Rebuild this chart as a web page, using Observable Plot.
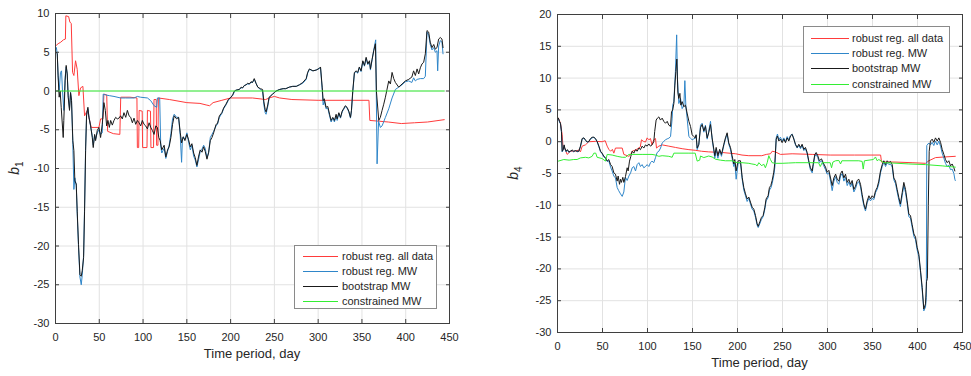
<!DOCTYPE html>
<html><head><meta charset="utf-8">
<script src="https://cdn.jsdelivr.net/npm/d3@7"></script>
<script src="https://cdn.jsdelivr.net/npm/@observablehq/plot@0.6"></script>
<style>
body{margin:0;background:#fff;font-family:"Liberation Sans",Arial,Helvetica,sans-serif;}
#wrap{position:relative;width:971px;height:376px;overflow:hidden;background:#fff;}
.panel{position:absolute;top:0;z-index:1;}
.legend{position:absolute;z-index:5;background:#fff;border:1px solid #8a8a8a;box-sizing:border-box;font-size:11px;color:#262626;}
.row{position:absolute;left:0;height:14px;line-height:14px;white-space:nowrap;}
.sw{position:absolute;top:0;}
.lt{position:absolute;top:0;}
</style></head><body>
<div id="wrap"></div>
<script>
// ---------- data ----------
const seriesNames = ["robust reg. all data", "robust reg. MW", "bootstrap MW", "constrained MW"];
const seriesColors = ["#ff3b3b", "#2f86c9", "#1a1a1a", "#33ee33"];
const xTicks = [0, 50, 100, 150, 200, 250, 300, 350, 400, 450];
const yTicksB1 = [-30, -25, -20, -15, -10, -5, 0, 5, 10];
const yTicksB4 = [-30, -25, -20, -15, -10, -5, 0, 5, 10, 15, 20];
const xLabel = "Time period, day";

// panel b1 : [day, value]
const b1RobustAll = [[1,5.9],[3,6.1],[6,6.3],[9,6.6],[11.3,6.7],[11.8,9.7],[15,9.6],[16.4,8.9],[18,8.7],[19.5,2.4],[21,2.0],[22.9,3.9],[24.8,2.8],[26.7,-0.6],[28.6,0.4],[31.3,0.6],[33.2,-3.2],[36.3,-2.5],[38.2,-3.4],[40.8,-4.7],[49.6,-4.7],[51.5,-3.6],[54.2,-3.6],[55.3,-0.4],[58.5,-0.5],[59.5,-5.2],[66,-5.5],[73.5,-5.6],[74.5,-0.8],[85,-0.8],[93,-0.9],[93.5,-7.3],[95,-7.3],[95.5,-2.5],[99,-2.6],[99.5,-7.3],[104.5,-7.3],[105,-2.5],[108.5,-2.6],[109,-7.3],[112,-7.3],[112.5,-1.1],[115,-1.1],[115.5,-7.0],[117,-7.0],[117.5,-0.9],[130,-1.1],[150,-1.5],[165,-1.6],[172,-1.8],[176,-1.9],[180,-1.5],[190,-1.2],[200,-0.9],[225,-0.9],[240,-1.1],[244,-0.9],[250,-0.7],[256,-0.9],[270,-1.1],[300,-1.2],[330,-1.2],[358,-1.2],[359,-3.8],[370,-3.9],[380,-4.0],[395,-4.2],[410,-4.1],[425,-4.0],[444,-3.7]];
const b1RobustMW = [[1,5.6],[2,4.8],[3,2.0],[4.2,0],[5.7,2.4],[6.9,2.6],[8,0],[9.5,-2.5],[11,1.8],[12.2,3.1],[13.4,2.2],[14.5,-0.6],[16,-2.3],[17.2,-0.2],[18.3,-1.2],[19.8,-6.9],[21,-12.7],[22.1,-11.2],[23.7,-12.2],[24.8,-15.8],[26.3,-20.2],[27.9,-24],[29.4,-25],[30.5,-23.8],[32.1,-21.2],[33.2,-15],[34.4,-7.2],[35.5,-3.2],[37,-2.3],[38.2,-3.3],[40.1,-4.6],[42,-5.8],[43.1,-7.0],[44.7,-5.7],[45.8,-6.2],[47.7,-5.4],[49.6,-5.0],[51.5,-5.6],[53.4,-5.4],[54.5,-0.4],[57,-0.5],[61.5,-0.6],[66.8,-0.7],[74.4,-0.9],[80,-0.9],[89.7,-0.9],[93.5,-0.7],[97,-0.8],[105,-0.9],[108.8,-1.25],[112.6,-1.9],[115.6,-2.1],[116.4,-0.9],[119,-0.9],[120.2,-7.1],[121.4,-8.0],[124.1,-7.4],[126,-8.7],[128,-7.8],[129.8,-7.0],[131.8,-5.5],[133.7,-3.6],[135.6,-3.0],[138.3,-3.4],[140.6,-3.4],[142.5,-5.8],[144,-9.2],[145,-6.0],[147.8,-6.2],[150.1,-5.4],[152,-6.6],[154,-7.6],[155.8,-7.0],[157.8,-8.4],[159.6,-8.9],[161.5,-9.8],[163.5,-8.8],[165.3,-7.8],[167.3,-7.5],[169.2,-7.0],[171,-7.4],[173,-8.6],[174.9,-8.0],[176.8,-6.0],[178.7,-5.6],[180.6,-5.2],[183.4,-4.5],[185,-4.3],[187.2,-3.4],[190,-2.9],[192,-2.3],[194.7,-1.8],[197.4,-1.2],[200.4,-0.8],[202.3,-0.6],[204.3,-0.1],[206,0.1],[210,0.2],[212,0.4],[213.7,0.4],[215.6,0.7],[217.6,0.8],[219.5,0.9],[221.4,0.9],[223.3,1.1],[225,1.1],[227,1.5],[229,1.0],[231,0.5],[234,0.2],[236.5,0.0],[238,-1.8],[239.5,-2.8],[240.5,-3.0],[242.4,-2.0],[244,-0.9],[246,-0.6],[248,-0.4],[250,-0.2],[252,0],[256,0.2],[260,0.3],[263,0.3],[267,0.5],[271,0.6],[275,0.6],[278.6,0.8],[282.4,1.0],[286.3,1.5],[288,2.3],[290,2.8],[294,2.6],[297.7,2.7],[301,2.9],[302.7,3.0],[304.6,0.2],[305.7,-1.8],[307,-1.3],[309,-2.3],[311,-2.2],[313,-3.2],[314.8,-4.0],[316.7,-3.5],[318.6,-4.0],[320.5,-3.2],[321.7,-3.8],[323.6,-2.9],[325.5,-3.5],[327.4,-2.7],[329,-2.4],[331,-2.0],[333,-2.2],[335,-2.7],[336.9,-3.5],[338,-2.6],[339.5,-0.2],[341.4,2.3],[343.3,2.5],[345.2,2.3],[347,3.0],[349,2.5],[351,3.8],[352.9,3.2],[354.8,4.2],[356.7,3.4],[358.6,3.8],[359.7,2.7],[361.6,4.0],[363.5,5.3],[365.7,6.6],[367.3,-9.4],[369,-3.9],[371,-4.7],[373,-4.5],[376.8,-3.4],[380.6,-2.3],[384.4,-0.9],[388.2,0.2],[392,0.5],[395.8,0.8],[399.6,1.2],[403.4,1.3],[407,1.1],[409,1.7],[411,1.3],[413,1.5],[416.7,1.6],[420.5,1.6],[422.4,1.9],[424.3,7.6],[426.2,7.2],[428,6.0],[430,5.3],[432,5.6],[433.8,5.0],[435.7,5.2],[436.5,2.6],[437.6,5.8],[439.5,6.5],[441.4,6.3],[442.6,4.8]];
const b1Bootstrap = [[1,5.0],[2,4.8],[3,1.8],[4.2,-0.8],[5.3,0],[6.5,-2.1],[8.8,-6.0],[9.5,-3.8],[11,1.3],[12.2,3.3],[13.4,2.2],[14.5,-0.8],[16,-2.5],[17.2,-0.2],[18.3,-1.2],[19.8,-6.4],[21,-7.7],[22.1,-11.6],[23.7,-12],[24.8,-15.5],[26.3,-19.8],[27.9,-23.7],[29.4,-23.9],[30.5,-23.2],[32.1,-21.5],[33.2,-15.5],[34.4,-7.7],[35.5,-3],[37,-2.1],[38.2,-3.4],[40.1,-4.5],[42,-6],[43.1,-7.3],[44.7,-5.6],[45.8,-6.4],[47.7,-5.1],[49.6,-4.7],[51.5,-6],[53.4,-4.3],[55.3,-1.5],[56.9,-2.5],[58.4,-4.5],[59.9,-3.8],[61.5,-4.7],[63,-3.8],[64.9,-4.4],[66.8,-3.8],[68.7,-3.4],[70.6,-3.6],[72.5,-3.5],[74.4,-3.2],[76.3,-3.6],[78.2,-2.8],[80.2,-3.4],[82.1,-2.5],[84,-3.2],[85.9,-3.4],[87.8,-4.1],[89.7,-3.5],[91.6,-4.3],[93.5,-3.8],[95.4,-4.1],[97.3,-4.5],[99.2,-3.8],[101.1,-4.3],[103,-4.5],[105,-4.9],[106.9,-4.1],[108.8,-4.7],[110.7,-5.1],[112.6,-5.6],[114.5,-4.5],[116.4,-4.7],[118,-6.0],[119.5,-6.4],[121.4,-7.6],[124.1,-7.0],[126,-8.5],[128,-7.6],[129.8,-7.2],[131.8,-6],[133.7,-4.3],[135.6,-3.2],[138.3,-3.6],[140.6,-3.4],[142.5,-5.4],[144,-6.7],[146,-5.9],[147.8,-6.4],[150.1,-5.6],[152,-6.3],[154,-7.2],[155.8,-6.8],[157.8,-8.0],[159.6,-8.6],[161.5,-9.6],[163.5,-8.4],[165.3,-7.6],[167.3,-7.9],[169.2,-7.2],[171,-7.8],[173,-8.8],[174.9,-7.9],[176.8,-6.4],[178.7,-6.0],[180.6,-5.4],[183.4,-4.3],[185,-4.2],[187.2,-3.2],[190,-2.8],[192,-2.2],[194.7,-1.7],[197.4,-1.1],[200.4,-0.8],[202.3,-0.5],[204.3,0],[206,0.1],[210,0.2],[212,0.5],[213.7,0.4],[215.6,0.7],[217.6,0.8],[219.5,1.0],[221.4,0.9],[223.3,1.2],[225,1.1],[227,1.6],[229,1.0],[231,0.5],[234,0.3],[236.5,0.2],[238,-1.4],[239.5,-2.4],[240.5,-2.7],[242.4,-1.8],[244,-0.8],[246,-0.6],[248,-0.4],[250,-0.2],[252,0],[256,0.2],[260,0.3],[263,0.3],[267,0.5],[271,0.6],[275,0.6],[278.6,0.8],[282.4,1.1],[286.3,1.6],[288,2.4],[290,2.85],[294,2.6],[297.7,2.7],[301,2.9],[302.7,3.1],[304.6,0.5],[305.7,-1.25],[307,-1.0],[309,-2.1],[311,-2.0],[313,-3.0],[314.8,-3.8],[316.7,-3.4],[318.6,-3.8],[320.5,-3.0],[321.7,-3.6],[323.6,-2.8],[325.5,-3.4],[327.4,-2.6],[329,-2.3],[331,-1.9],[333,-2.1],[335,-2.6],[336.9,-3.4],[338,-2.5],[339.5,0],[341.4,2.4],[343.3,2.6],[345.2,2.4],[347,3.1],[349,2.6],[351,3.9],[352.9,3.3],[354.8,4.35],[356.7,3.5],[358.6,3.9],[359.7,2.85],[361.6,4.1],[363.5,5.2],[365.4,6.1],[366.5,0],[369.2,-3.8],[371,-3.4],[373,-2.5],[374.9,-1.7],[376.8,-0.8],[378.7,0.25],[380.6,1.3],[382.5,0.9],[384.4,2.4],[386.3,1.6],[388.2,1.1],[392,0.5],[395.8,0.9],[399.6,1.3],[403.4,1.5],[407,1.8],[409,2.6],[411,2.0],[413,2.85],[414.8,2.2],[416.7,3.0],[418.6,3.5],[420.5,3.7],[422.4,4.8],[424.3,7.8],[426.2,7.6],[428,6.3],[430,5.6],[432,6.0],[433.8,5.4],[435.7,5.6],[437.6,6.7],[439.5,6.9],[441.4,6.7],[442.6,5.6]];
const b1Constrained = [[1,0],[444,0]];

// panel b4 : [day, value]
const b4RobustAll = [[1,3.7],[3.3,2.9],[5.2,1.1],[6.3,-1.25],[8,-1.0],[10.7,-2.0],[14.4,-1.5],[20,-1.5],[23.7,-1.3],[25.5,-1.6],[27.4,-0.7],[31,-0.5],[34.8,0],[42,0.05],[49.6,0],[53,0.15],[55.2,-0.7],[57,-1.2],[59,-1.5],[61,-1.2],[62.6,-1.8],[64.4,-1.0],[71.9,-1.0],[73.7,-2.0],[79.3,-2.3],[81,-2.1],[83,-1.5],[86.7,-1.3],[90.4,-1.0],[92,-0.8],[93.3,0.3],[95.5,0.05],[97.8,-0.05],[99.6,0.6],[101.5,0.3],[103.3,0.5],[105,-0.5],[107,0.3],[108.9,0.5],[110,-1.0],[112.6,-0.7],[116.3,-0.5],[123.7,-0.7],[131,-0.9],[138.5,-1.1],[146,-1.25],[153,-1.35],[160,-1.5],[168,-1.6],[183,-1.7],[198,-1.9],[205,-2.1],[212.6,-2.2],[227,-2.2],[232,-2.0],[236.6,-1.9],[238.5,-1.5],[242,-1.6],[247.7,-2.0],[260.7,-1.9],[283,-2.0],[303,-2.1],[330,-2.1],[359,-2.1],[360,-3.2],[375,-3.2],[394,-3.3],[408.9,-3.4],[412.6,-3.0],[420,-2.5],[430,-2.4],[442,-2.3]];
const b4RobustMW = [[1,3.6],[2.2,3.1],[3.3,2.8],[4.4,1.5],[5.2,-1.6],[6.3,-1.3],[7.4,-0.6],[8.1,-1.1],[9.6,-1.6],[11,-1.3],[12.6,-1.7],[14.4,-1.5],[16.3,-1.4],[18,-1.6],[20,-1.4],[21.8,-1.6],[23.7,-1.5],[25.5,-0.8],[27.4,0.4],[29.3,0.6],[31,0.2],[33,-0.1],[34.8,0],[36.7,0.4],[38.5,0.6],[40.4,0.7],[42.2,0.4],[44,0],[46,-0.8],[47.8,-1.6],[49.6,-1.9],[51.5,-2.4],[53.3,-2.6],[55.2,-3.1],[57,-3.0],[59,-4.0],[60.7,-4.6],[62.6,-5.4],[64.4,-5.7],[66.3,-7.2],[68,-7.7],[70,-8.2],[71.9,-8.6],[73.7,-7.9],[75.5,-5.6],[77.4,-6.1],[79.3,-5.4],[81.2,-4.9],[83,-4.1],[84.8,-3.9],[86.7,-4.6],[88.5,-3.6],[90.4,-3.3],[92.2,-3.9],[94,-3.6],[95.9,-4.1],[97.8,-3.9],[99.6,-3.6],[101.5,-3.9],[103.3,-3.3],[105,-3.05],[107,-3.3],[108.9,-2.5],[110.7,-1.7],[112.6,-1.5],[114.5,-1.0],[116.3,-0.2],[118.1,0.05],[120,0.3],[121.9,0.45],[123.7,0.55],[125.6,0.8],[127.4,3.7],[128.1,5.8],[129.3,6.3],[131,11.0],[132.4,16.8],[133.3,9.9],[134.8,6.0],[136.7,6.8],[138.5,5.2],[140.4,5.7],[141.5,9.6],[142.6,5.7],[144,3.7],[146,0.8],[147.8,0.55],[149.6,0.3],[151.5,0.45],[153,0.55],[154,1.0],[155.2,-1.25],[157,-0.5],[158.9,2.6],[160.7,2.9],[162.6,1.5],[164.4,2.6],[166.3,0.4],[168,1.6],[170,3.2],[171.8,0.4],[173.7,-1.5],[174.8,-2.6],[176.3,-1.2],[178.2,-2.6],[180.2,-1.4],[182.2,-2.3],[184.8,-0.6],[186.6,0.4],[188.5,1.2],[190.3,-0.4],[192.2,-1.2],[194,-2.6],[195.9,-3.9],[197,-3.3],[198.5,-5.9],[200.7,-3.4],[203.3,-3.3],[205.2,-5.9],[207,-7.6],[208.9,-8.5],[210.7,-9.4],[212.6,-8.9],[214.4,-9.8],[216.3,-10.6],[218.1,-10.9],[220,-11.9],[221.8,-13.1],[223,-13.5],[224.8,-12.9],[226.6,-12.2],[228.5,-11.8],[230.4,-10.6],[231.8,-9.3],[234,-8.8],[235.5,-7.6],[237,-7.3],[238.5,-6.6],[240.3,-5.3],[241.5,-4.0],[243,0.6],[244.4,1.2],[245.9,0.3],[247.7,0.7],[249.6,0.1],[251.5,0.6],[253.3,0.0],[255.2,0.8],[257,0.3],[258.9,1.0],[260.7,1.2],[262.6,0.5],[264.4,-0.5],[266.3,-1.0],[268.1,-0.6],[270,-1.1],[271.8,-0.6],[273.7,-1.4],[275.5,-1.1],[277.4,-1.9],[279.2,-3.2],[281,-4.4],[283,-4.9],[284,-3.9],[285.9,-2.3],[287.4,-2.0],[289.2,-2.5],[291,-3.3],[293.3,-3.0],[295.9,-3.8],[297.8,-4.4],[299.6,-5.1],[301.5,-4.9],[303.4,-6.2],[305.2,-7.7],[307.1,-6.2],[309,-5.5],[310.8,-6.4],[312.6,-6.7],[314.5,-5.4],[316.3,-5.0],[318.2,-6.2],[320,-5.6],[321.9,-6.9],[323.7,-6.3],[325.6,-7.1],[327.4,-6.5],[329.3,-7.9],[331.1,-7.4],[333,-6.5],[334.8,-6.3],[336.7,-7.1],[338.5,-8.7],[340.4,-10.1],[342.2,-10.9],[344.1,-9.6],[346,-8.9],[347.8,-9.3],[349.6,-8.9],[351.5,-9.1],[353.4,-8.0],[355.2,-7.5],[357,-6.6],[358.9,-4.9],[360.8,-3.9],[362.6,-3.2],[364.5,-3.9],[366.3,-3.3],[368.2,-3.6],[370,-3.5],[371.9,-4.0],[373.7,-6.0],[375.6,-6.6],[377.4,-7.9],[379.3,-9.2],[381,-10.2],[383,-8.5],[384.8,-6.9],[386.7,-8.0],[388.5,-9.7],[390.4,-11.8],[392.2,-12.0],[394,-13.4],[396,-14.9],[397.8,-15.4],[399.6,-17.0],[401.5,-18.1],[403.4,-20.6],[405.2,-23.3],[407,-26.6],[408.9,-26.0],[409.8,-24.5],[410.3,-0.6],[412.6,-0.2],[414.4,-0.5],[416.3,-0.1],[418.1,-0.6],[420,0.1],[421.9,-0.5],[423.7,0.1],[425.6,-0.7],[427.4,-1.8],[429.3,-2.6],[431.1,-3.4],[433,-3.9],[434.8,-3.7],[436.7,-4.4],[438.5,-4.3],[440.4,-5.0],[441.5,-5.9],[442,-6.1]];
const b4Bootstrap = [[1,3.7],[2.2,3.2],[3.3,2.9],[4.4,1.6],[5.2,-1.5],[6.3,-1.25],[7.4,-0.5],[8.1,-1.0],[9.6,-1.5],[11,-1.25],[12.6,-1.6],[14.4,-1.5],[16.3,-1.3],[18,-1.5],[20,-1.4],[21.8,-1.5],[23.7,-1.5],[25.5,-0.7],[27.4,0.5],[29.3,0.6],[31,0.3],[33,-0.05],[34.8,0.05],[36.7,0.5],[38.5,0.7],[40.4,0.7],[42.2,0.5],[44,0.05],[46,-0.7],[47.8,-1.5],[49.6,-1.8],[51.5,-2.3],[53.3,-2.5],[55.2,-3.05],[57,-2.8],[59,-3.6],[60.7,-3.9],[62.6,-4.9],[64.4,-5.1],[66.3,-6.2],[67.4,-5.4],[68.9,-6.7],[70,-5.9],[71,-6.4],[72.6,-5.6],[73.7,-6.4],[75.5,-5.5],[77.4,-4.1],[78.5,-4.6],[80,-3.05],[81.5,-2.3],[83,-1.5],[84.8,-1.8],[86.7,-1.25],[88.5,-1.5],[90.4,-1.0],[92.2,-1.25],[94,-0.7],[95.9,-1.0],[97.8,-0.5],[99.6,-0.7],[101.5,-0.35],[103.3,-0.7],[105,-0.5],[107,0],[108,1.6],[109.6,3.4],[111,3.7],[112.6,3.9],[114.4,3.4],[116.3,3.7],[118.1,3.2],[120,2.9],[121.9,3.2],[123.7,2.6],[125.6,2.4],[126.7,4.7],[128,5.0],[129.3,6.0],[130.4,8.9],[131.5,11.0],[132.6,13.0],[133.7,7.8],[134.8,6.8],[136,7.6],[137,5.75],[138.5,6.3],[140.4,5.5],[142.2,5.75],[144,4.5],[146,3.2],[147.8,2.4],[149.6,1.1],[151.5,0.8],[153,0.6],[154,1.1],[155.2,-1.0],[157,-0.4],[158.9,2.2],[160.7,2.7],[162.6,1.7],[164.4,2.4],[166.3,0.6],[168,1.4],[170,2.7],[171.8,0.6],[173.7,-1.2],[174.8,-2.2],[176.3,-0.9],[178.2,-2.2],[180.2,-1.2],[182.2,-2.0],[184.8,-0.4],[186.6,0.6],[188.5,1.4],[190.3,-0.2],[192.2,-0.9],[194,-2.2],[195.9,-3.5],[197,-2.8],[198.5,-4.6],[200.7,-3.0],[203.3,-3.0],[205.2,-5.6],[207,-7.2],[208.9,-8.2],[210.7,-9.0],[212.6,-8.7],[214.4,-9.5],[216.3,-10.3],[218.1,-10.6],[220,-11.6],[221.8,-12.9],[223,-13.3],[224.8,-12.6],[226.6,-11.9],[228.5,-11.6],[230.4,-10.3],[231.8,-9.0],[234,-8.5],[235.5,-7.2],[237,-6.9],[238.5,-6.1],[240.3,-4.8],[241.5,-3.3],[243,0.4],[244.4,0.9],[245.9,0.1],[247.7,0.4],[249.6,-0.15],[251.5,0.4],[253.3,-0.15],[255.2,0.6],[257,0.1],[258.9,0.9],[260.7,1.15],[262.6,0.4],[264.4,-0.4],[266.3,-0.9],[268.1,-0.4],[270,-0.9],[271.8,-0.4],[273.7,-1.2],[275.5,-0.9],[277.4,-1.7],[279.2,-3.0],[281,-4.1],[283,-4.6],[284,-3.6],[285.9,-2.0],[287.4,-1.7],[289.2,-2.2],[291,-3.0],[293.3,-2.7],[295.9,-3.5],[297.8,-4.0],[299.6,-4.8],[301.5,-4.5],[303.4,-5.7],[305.2,-6.9],[307.1,-5.7],[309,-5.1],[310.8,-5.9],[312.6,-6.2],[314.5,-5.0],[316.3,-4.6],[318.2,-5.7],[320,-5.1],[321.9,-6.4],[323.7,-5.9],[325.6,-6.7],[327.4,-6.1],[329.3,-7.5],[331.1,-7.0],[333,-6.1],[334.8,-5.9],[336.7,-6.7],[338.5,-8.3],[340.4,-9.8],[342.2,-10.6],[344.1,-9.3],[346,-8.5],[347.8,-9.0],[349.6,-8.5],[351.5,-8.8],[353.4,-7.7],[355.2,-7.2],[357,-6.2],[358.9,-4.6],[360.8,-3.6],[362.6,-3.0],[364.5,-3.6],[366.3,-3.0],[368.2,-3.3],[370,-3.1],[371.9,-3.6],[373.7,-5.7],[375.6,-6.2],[377.4,-7.5],[379.3,-8.8],[381,-9.8],[383,-8.0],[384.8,-6.4],[386.7,-7.5],[388.5,-9.3],[390.4,-11.4],[392.2,-11.6],[394,-13.0],[396,-14.5],[397.8,-15.0],[399.6,-16.6],[401.5,-17.7],[403.4,-20.3],[405.2,-22.9],[407,-26.3],[408.9,-25.5],[410,-22.0],[411,-21.5],[412,-10.0],[413,-1.5],[414.4,0.1],[416.3,0.4],[418.1,-0.1],[420,0.6],[421.9,0.1],[423.7,0.6],[425.6,-0.1],[427.4,-1.2],[429.3,-2.0],[431.1,-2.8],[433,-3.3],[434.8,-3.0],[436.7,-3.8],[438.5,-3.5],[440.4,-4.1],[441.5,-4.6]];
const b4Constrained = [[1,-3.05],[7,-2.8],[13,-2.9],[18,-2.8],[21.8,-2.8],[25.5,-2.55],[31,-2.45],[34.8,-2.55],[38.5,-2.3],[40.4,-1.8],[42.5,-1.8],[44,-2.45],[49.6,-2.65],[53.3,-3.05],[55.2,-2.0],[60.7,-2.1],[66.3,-2.3],[71.9,-2.45],[75.6,-2.45],[79.3,-2.0],[94,-2.0],[105,-2.0],[108.9,-2.1],[112.6,-2.3],[116.3,-2.2],[123.7,-2.3],[127.4,-2.45],[129.3,-1.8],[146,-1.8],[153,-1.8],[155.2,-3.05],[158,-2.9],[158.9,-2.25],[162.6,-2.5],[168,-2.25],[171.8,-2.4],[175.5,-2.75],[181,-2.9],[186.6,-3.0],[194,-3.0],[199.6,-3.3],[205,-3.3],[212.6,-3.4],[216,-3.5],[220,-3.6],[221.8,-3.8],[223.7,-3.3],[227,-3.8],[229,-3.5],[231,-4.1],[233,-3.3],[234.8,-2.2],[236.6,-2.8],[238.5,-3.3],[242,-3.4],[249.6,-3.4],[257,-3.35],[264.4,-3.3],[279,-3.3],[290,-3.3],[292,-3.9],[294,-3.3],[303,-3.3],[304.5,-4.1],[306,-3.2],[309,-3.0],[312.6,-2.95],[314.5,-3.5],[316,-3.0],[334.8,-3.0],[338.5,-3.1],[339.7,-4.3],[341,-3.0],[351,-2.8],[353.3,-2.4],[355.2,-3.0],[357,-2.8],[362.6,-3.3],[372,-3.35],[390.4,-3.5],[408.9,-3.6],[427.4,-3.8],[442,-4.0]];

// ---------- drawing ----------
const wrap = document.getElementById("wrap");

function makePanel(o) {
  const div = document.createElement("div");
  div.className = "panel";
  div.style.left = o.left + "px";
  wrap.appendChild(div);
  const axisColor = "#3f3f3f";
  const chart = Plot.plot({
    width: o.width, height: 376,
    marginLeft: o.ml, marginRight: o.mr, marginTop: o.mt, marginBottom: o.mb,
    style: {fontSize: "11px", fontFamily: "'Liberation Sans', Arial, Helvetica, sans-serif", color: "#262626", background: "transparent", overflow: "visible"},
    x: {domain: [0, 450]},
    y: {domain: o.yDomain},
    marks: [
      Plot.gridX(xTicks, {stroke: "#e2e2e2", strokeOpacity: 1}),
      Plot.gridY(o.yTicks, {stroke: "#e2e2e2", strokeOpacity: 1}),
      ...o.series.map((s, i) => Plot.line(s, {x: d => d[0], y: d => d[1], stroke: seriesColors[i], strokeWidth: 1})),
      Plot.frame({stroke: axisColor, strokeWidth: 1}),
      Plot.axisX(xTicks, {anchor: "bottom", tickSize: 0, tickPadding: 10, label: null, tickFormat: d => String(d)}),
      Plot.axisY(o.yTicks, {anchor: "left", tickSize: 0, tickPadding: 6, label: null, tickFormat: d => String(d)}),
      Plot.axisX(xTicks, {anchor: "bottom", tickSize: -4, fill: "none", stroke: axisColor, label: null}),
      Plot.axisX(xTicks, {anchor: "top", tickSize: -4, fill: "none", stroke: axisColor, label: null}),
      Plot.axisY(o.yTicks, {anchor: "left", tickSize: -4, fill: "none", stroke: axisColor, label: null}),
      Plot.axisY(o.yTicks, {anchor: "right", tickSize: -4, fill: "none", stroke: axisColor, label: null})
    ]
  });
  div.appendChild(chart);
  const svg = d3.select(chart);
  const cx = (o.ml + o.width - o.mr) / 2;
  svg.append("text").attr("x", cx).attr("y", o.xlabY).attr("text-anchor", "middle")
    .attr("font-size", 13).attr("fill", "#262626").text(xLabel);
  const yl = svg.append("text").attr("transform", `translate(${o.ylabX},${o.ylabY}) rotate(-90)`)
    .attr("text-anchor", "middle").attr("fill", "#262626").attr("font-size", 14);
  yl.append("tspan").attr("font-style", "italic").text("b");
  yl.append("tspan").attr("font-size", 10).attr("dy", 4).text(o.sub);

  // legend
  const lg = document.createElement("div");
  lg.className = "legend";
  Object.assign(lg.style, {left: o.lg.x + "px", top: o.lg.y + "px", width: o.lg.w + "px", height: o.lg.h + "px"});
  seriesNames.forEach((name, i) => {
    const row = document.createElement("div");
    row.className = "row";
    row.style.top = (o.lg.r0 + i * o.lg.dr - 7) + "px";
    row.style.width = "100%";
    const sw = d3.create("svg").attr("class", "sw").attr("width", o.lg.sw).attr("height", 14)
      .style("left", o.lg.sx + "px");
    sw.append("line").attr("x1", 0).attr("x2", o.lg.sw).attr("y1", 7.5).attr("y2", 7.5)
      .attr("stroke", seriesColors[i]).attr("stroke-width", 1);
    const t = document.createElement("div");
    t.className = "lt";
    t.style.left = o.lg.tx + "px";
    t.textContent = name;
    row.appendChild(sw.node()); row.appendChild(t);
    lg.appendChild(row);
  });
  wrap.appendChild(lg);
}

makePanel({left: 0, width: 485, ml: 55, mr: 36, mt: 13, mb: 53,
  yDomain: [-30, 10], yTicks: yTicksB1, sub: "1",
  series: [b1RobustAll, b1RobustMW, b1Bootstrap, b1Constrained],
  xlabY: 358, ylabX: 19, ylabY: 168,
  lg: {x: 294, y: 245, w: 143, h: 64, r0: 10, dr: 15, sx: 8, sw: 35, tx: 47}});

makePanel({left: 486, width: 485, ml: 71, mr: 9, mt: 14, mb: 44,
  yDomain: [-30, 20], yTicks: yTicksB4, sub: "4",
  series: [b4RobustAll, b4RobustMW, b4Bootstrap, b4Constrained],
  xlabY: 367, ylabX: 32, ylabY: 173,
  lg: {x: 803, y: 26, w: 147, h: 67, r0: 11, dr: 15.2, sx: 7, sw: 38, tx: 48}});
</script>
</body></html>
